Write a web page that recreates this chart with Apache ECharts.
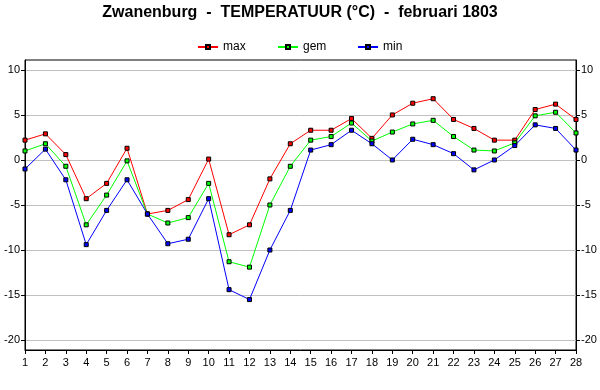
<!DOCTYPE html>
<html><head><meta charset="utf-8">
<script src="https://cdn.jsdelivr.net/npm/echarts@6/dist/echarts.min.js"></script>
<style>html,body{margin:0;padding:0;background:#fff}#c{width:600px;height:390px}</style>
</head><body><div id="c"></div>
<script>
const days = ['1','2','3','4','5','6','7','8','9','10','11','12','13','14','15','16','17','18','19','20','21','22','23','24','25','26','27','28'];
const maxT = [2.2,2.9,0.6,-4.3,-2.6,1.3,-6.0,-5.6,-4.4,0.1,-8.3,-7.2,-2.1,1.8,3.3,3.3,4.6,2.4,5.0,6.3,6.8,4.5,3.5,2.2,2.2,5.6,6.2,4.5];
const gemT = [1.0,1.8,-0.7,-7.2,-3.9,-0.1,-6.0,-7.0,-6.4,-2.6,-11.3,-11.9,-5.0,-0.7,2.2,2.6,4.1,2.1,3.1,4.0,4.4,2.6,1.1,1.0,1.9,4.9,5.3,3.0];
const minT = [-1.0,1.2,-2.2,-9.4,-5.6,-2.2,-6.0,-9.3,-8.8,-4.3,-14.4,-15.5,-10.0,-5.6,1.1,1.7,3.3,1.8,0.0,2.3,1.7,0.7,-1.1,0.0,1.6,3.9,3.5,1.1];
const yTicks = [-20,-15,-10,-5,0,5,10];
const seriesNames = ['max','gem','min'];

const font = 'Liberation Sans, Arial, sans-serif';
function yAx(pos){
  return {
    type:'value', position:pos, min:-21.1, max:11.1,
    axisLine:{show:true,onZero:false,lineStyle:{color:'#000',width:1}},
    axisTick:{show:true,length:4,inside:false,customValues:yTicks,lineStyle:{color:'#000'}},
    axisLabel:{customValues:yTicks,color:'#000',fontFamily:font,fontSize:11,margin:5},
    splitLine:{show:pos==='left',lineStyle:{color:'#c0c0c0',width:1}}
  };
}
function ser(name,data,color){
  return {name,type:'line',data,symbol:'rect',symbolSize:4,
    lineStyle:{color,width:1},
    itemStyle:{color,borderColor:'#000',borderWidth:1},
    emphasis:{disabled:true},animation:false};
}
function leg(name,left){
  return {top:36,left,itemWidth:20,itemHeight:5,itemGap:0,
    textStyle:{fontFamily:font,fontSize:12,color:'#000'},data:[name]};
}
const chart = echarts.init(document.getElementById('c'),null,{renderer:'canvas'});
chart.setOption({
  animation:false,
  backgroundColor:'#fff',
  title:{text:'Zwanenburg  -  TEMPERATUUR (°C)  -  februari 1803',left:'center',top:0,
    textStyle:{fontFamily:font,fontSize:16,fontWeight:'bold',color:'#000'}},
  legend:[leg(seriesNames[0],192),leg(seriesNames[1],272),leg(seriesNames[2],352)],
  grid:{left:25,right:24,top:60,bottom:40,show:true,borderColor:'#000',borderWidth:1,containLabel:false},
  xAxis:{type:'category',data:days,boundaryGap:false,
    axisLine:{onZero:false,lineStyle:{color:'#000'}},
    axisTick:{show:true,length:4,lineStyle:{color:'#000'},alignWithLabel:true},
    axisLabel:{color:'#000',fontFamily:font,fontSize:11,margin:7,interval:0},
    splitLine:{show:false}},
  yAxis:[yAx('left'),yAx('right')],
  series:[ser(seriesNames[0],maxT,'#ff0000'),ser(seriesNames[1],gemT,'#00ff00'),ser(seriesNames[2],minT,'#0000ff')]
});
</script></body></html>
